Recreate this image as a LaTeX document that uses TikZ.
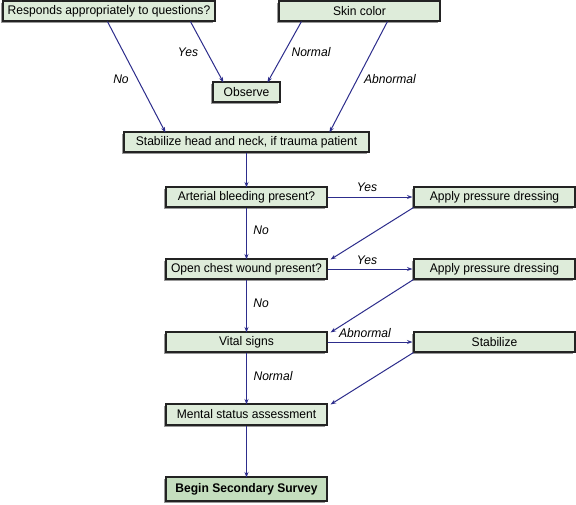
\documentclass[tikz,border=0pt]{standalone}
\usepackage{fontspec}
\setmainfont{Liberation Sans}[FakeStretch=0.965]
\usetikzlibrary{arrows.meta,shadows}
\definecolor{boxfill}{RGB}{222,236,218}
\definecolor{endfill}{RGB}{196,222,190}
\definecolor{arrowblue}{RGB}{45,45,140}
\definecolor{boxline}{RGB}{35,35,35}
\begin{document}
\begin{tikzpicture}[x=1pt,y=-1pt,
  flowbox/.style={draw=boxline, line width=1.1pt, fill=boxfill, inner sep=0pt,
    minimum height=20pt, font=\fontsize{12.5}{14}\selectfont,
    drop shadow={shadow xshift=-2pt, shadow yshift=-2pt, opacity=1, fill=black!40}},
  endbox/.style={flowbox, fill=endfill, minimum height=24pt, font=\fontsize{12.5}{14}\selectfont\bfseries},
  flowarrow/.style={draw=arrowblue, line width=1pt, -{Stealth[length=5.5pt,width=4pt]}},
  lbl/.style={font=\fontsize{12.5}{14}\selectfont\itshape, inner sep=0pt}]
\useasboundingbox (0,0) rectangle (576,504);
\fill[white] (0,0) rectangle (576,504);

\node[flowbox, minimum width=212pt] (resp) at (109,11) {Responds appropriately to questions?};
\node[flowbox, minimum width=161pt] (skin) at (359.5,11) {Skin color};
\node[flowbox, minimum width=67pt] (obs) at (246.5,92) {Observe};
\node[flowbox, minimum width=245pt] (stab) at (246.5,142) {Stabilize head and neck, if trauma patient};
\node[flowbox, minimum width=161pt] (art) at (246.5,197) {Arterial bleeding present?};
\node[flowbox, minimum width=161pt] (app1) at (494.5,197) {Apply pressure dressing};
\node[flowbox, minimum width=161pt] (chest) at (246.5,269) {Open chest wound present?};
\node[flowbox, minimum width=161pt] (app2) at (494.5,269) {Apply pressure dressing};
\node[flowbox, minimum width=161pt] (vital) at (246.5,342) {Vital signs};
\node[flowbox, minimum width=161pt] (stabz) at (494.5,342) {Stabilize};
\node[flowbox, minimum width=161pt, minimum height=21pt] (mental) at (246.5,414.5) {Mental status assessment};
\node[endbox, minimum width=161pt] (begin) at (246.5,489) {Begin Secondary Survey};

\draw[flowarrow] ([xshift=105pt]resp.south west) -- ([xshift=42pt,yshift=-1pt]stab.north west);
\draw[flowarrow] ([xshift=188pt]resp.south west) -- ([xshift=11pt,yshift=-1pt]obs.north west);
\draw[flowarrow] ([xshift=23pt]skin.south west) -- ([xshift=55pt,yshift=-1pt]obs.north west);
\draw[flowarrow] ([xshift=109pt]skin.south west) -- ([xshift=206pt,yshift=-1pt]stab.north west);

\draw[flowarrow] (stab.south) -- ([yshift=-1pt]art.north);
\draw[flowarrow] (art.east) -- ([xshift=-1pt]app1.west);
\draw[flowarrow] (art.south) -- ([yshift=-1pt]chest.north);
\draw[flowarrow] (app1.south west) -- ([xshift=3pt,yshift=-1pt]chest.north east);
\draw[flowarrow] (chest.east) -- ([xshift=-1pt]app2.west);
\draw[flowarrow] (chest.south) -- ([yshift=-1pt]vital.north);
\draw[flowarrow] (app2.south west) -- ([xshift=3pt,yshift=-1pt]vital.north east);
\draw[flowarrow] (vital.east) -- ([xshift=-1pt]stabz.west);
\draw[flowarrow] (vital.south) -- ([yshift=-1pt]mental.north);
\draw[flowarrow] (stabz.south west) -- ([xshift=3pt,yshift=-1pt]mental.north east);
\draw[flowarrow] (mental.south) -- ([yshift=-1pt]begin.north);

\node[lbl] (lno1) at (121,79) {No};
\node[lbl] (lyes1) at (188,52) {Yes};
\node[lbl] (lnorm1) at (311,52) {Normal};
\node[lbl] (labn1) at (390,79) {Abnormal};
\node[lbl] (lyes2) at (367,187) {Yes};
\node[lbl] (lno2) at (261,230) {No};
\node[lbl] (lyes3) at (367,260) {Yes};
\node[lbl] (lno3) at (261,303) {No};
\node[lbl] (labn2) at (365,333) {Abnormal};
\node[lbl] (lnorm2) at (273,376) {Normal};
\end{tikzpicture}
\end{document}
